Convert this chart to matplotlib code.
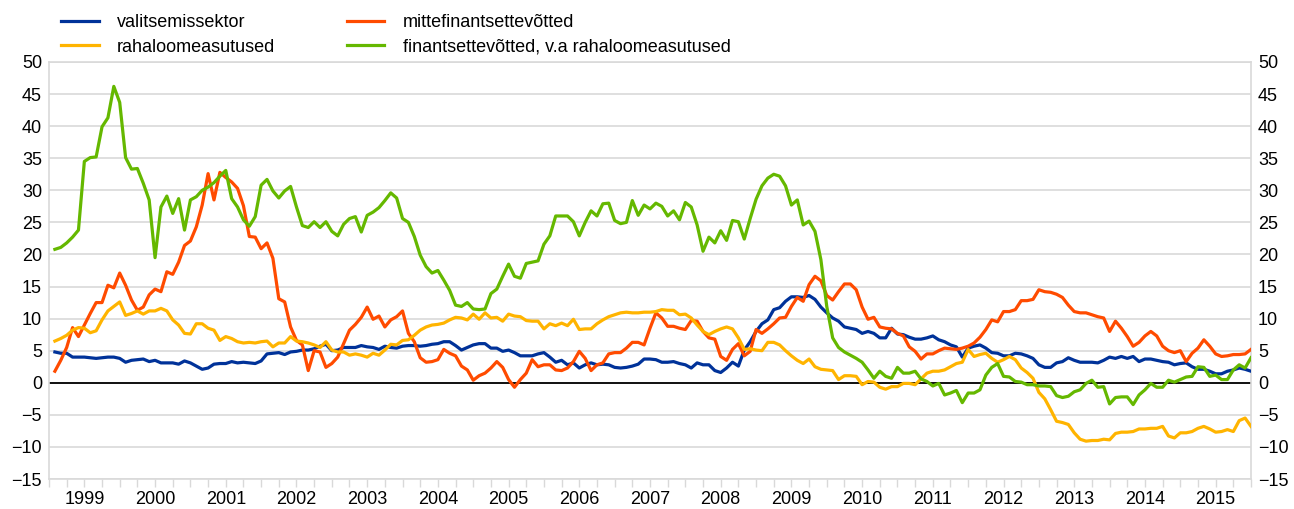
import numpy as np
import matplotlib
matplotlib.use("Agg")
import matplotlib.pyplot as plt
from matplotlib.ticker import MultipleLocator, FixedLocator

plt.rcParams['font.family'] = ['Liberation Sans', 'DejaVu Sans']

# monthly observations, Jan 1999 - Dec 2015 (one row per year)
valitsemissektor = [
    4.8, 4.6, 4.6, 4.0, 4.0, 4.0, 3.9, 3.8, 3.9, 4.0, 4.0, 3.8,
    3.2, 3.5, 3.6, 3.7, 3.3, 3.5, 3.1, 3.1, 3.1, 2.9, 3.4, 3.1,
    2.6, 2.1, 2.3, 2.9, 3.0, 3.0, 3.3, 3.1, 3.2, 3.1, 3.0, 3.4,
    4.5, 4.6, 4.7, 4.4, 4.8, 4.9, 5.1, 5.1, 5.3, 5.7, 6.0, 5.0,
    5.1, 5.5, 5.5, 5.5, 5.8, 5.6, 5.5, 5.2, 5.7, 5.5, 5.4, 5.7,
    5.8, 5.8, 5.7, 5.8, 6.0, 6.1, 6.4, 6.4, 5.8, 5.1, 5.5, 5.9,
    6.1, 6.1, 5.4, 5.4, 4.9, 5.1, 4.7, 4.2, 4.2, 4.2, 4.5, 4.7,
    4.0, 3.2, 3.5, 2.8, 3.1, 2.3, 2.8, 3.1, 2.8, 2.9, 2.8, 2.4,
    2.3, 2.4, 2.6, 2.9, 3.7, 3.7, 3.6, 3.2, 3.2, 3.3, 3.0, 2.8,
    2.3, 3.1, 2.8, 2.8, 1.9, 1.6, 2.3, 3.2, 2.6, 5.1, 6.4, 8.0,
    9.2, 9.8, 11.4, 11.7, 12.7, 13.4, 13.4, 13.3, 13.6, 13.0, 11.8, 10.9,
    10.1, 9.6, 8.7, 8.5, 8.3, 7.7, 8.0, 7.7, 7.0, 7.0, 8.5, 7.6,
    7.5, 7.1, 6.8, 6.8, 7.0, 7.3, 6.7, 6.4, 5.9, 5.6, 4.0, 5.4,
    5.7, 5.9, 5.4, 4.7, 4.6, 4.2, 4.2, 4.6, 4.5, 4.2, 3.8, 2.8,
    2.4, 2.4, 3.1, 3.3, 3.9, 3.5, 3.2, 3.2, 3.2, 3.1, 3.5, 4.0,
    3.8, 4.1, 3.8, 4.1, 3.3, 3.7, 3.7, 3.5, 3.3, 3.2, 2.8, 3.0,
    3.1, 2.5, 2.1, 2.1, 1.8, 1.4, 1.4, 1.8, 2.0, 2.3, 2.1, 1.8,
]

mittefinants = [
    1.8, 3.5, 5.5, 8.6, 7.2, 9.0, 10.8, 12.5, 12.5, 15.2, 14.8, 17.1,
    15.2, 12.9, 11.3, 11.8, 13.7, 14.6, 14.2, 17.3, 16.9, 18.8, 21.4, 22.1,
    24.3, 27.7, 32.6, 28.5, 32.8, 32.0, 31.3, 30.3, 27.6, 22.8, 22.7, 20.9,
    21.8, 19.4, 13.1, 12.6, 8.7, 6.6, 5.9, 1.9, 5.0, 4.8, 2.4, 3.0,
    4.0, 6.1, 8.2, 9.1, 10.2, 11.8, 9.9, 10.4, 8.7, 9.8, 10.3, 11.2,
    7.7, 6.4, 3.9, 3.2, 3.3, 3.6, 5.2, 4.6, 4.2, 2.6, 2.0, 0.4,
    1.1, 1.5, 2.3, 3.3, 2.4, 0.5, -0.7, 0.5, 1.5, 3.6, 2.5, 2.8,
    2.8, 2.0, 1.9, 2.3, 3.3, 4.9, 3.8, 1.9, 2.8, 3.1, 4.5, 4.7,
    4.7, 5.4, 6.3, 6.3, 5.9, 8.5, 10.9, 10.1, 8.8, 8.8, 8.5, 8.3,
    9.7, 9.6, 8.0, 7.0, 6.8, 4.1, 3.5, 5.2, 6.1, 4.2, 4.9, 8.3,
    7.7, 8.4, 9.2, 10.1, 10.2, 11.9, 13.3, 12.7, 15.3, 16.6, 15.9, 13.6,
    12.9, 14.2, 15.4, 15.4, 14.5, 11.8, 9.9, 10.2, 8.7, 8.5, 8.4, 7.7,
    7.3, 5.6, 4.9, 3.7, 4.5, 4.5, 5.0, 5.4, 5.3, 5.2, 5.4, 5.7,
    6.2, 7.1, 8.3, 9.8, 9.5, 11.1, 11.1, 11.4, 12.8, 12.8, 13.0, 14.5,
    14.2, 14.1, 13.8, 13.3, 12.1, 11.1, 10.9, 10.9, 10.6, 10.3, 10.1, 8.0,
    9.6, 8.5, 7.2, 5.7, 6.3, 7.3, 8.0, 7.3, 5.7, 5.0, 4.7, 5.0,
    3.3, 4.6, 5.4, 6.7, 5.7, 4.5, 4.1, 4.2, 4.4, 4.4, 4.5, 5.2,
]

rahaloome = [
    6.5, 6.9, 7.4, 8.2, 8.6, 8.5, 7.8, 8.1, 9.8, 11.2, 11.9, 12.6,
    10.5, 10.8, 11.2, 10.7, 11.2, 11.2, 11.6, 11.2, 9.8, 9.0, 7.7, 7.6,
    9.2, 9.2, 8.5, 8.2, 6.6, 7.2, 6.9, 6.4, 6.2, 6.3, 6.2, 6.4,
    6.5, 5.6, 6.2, 6.2, 7.2, 6.5, 6.4, 6.2, 5.9, 5.5, 6.4, 5.1,
    4.8, 4.8, 4.3, 4.5, 4.3, 4.0, 4.6, 4.3, 5.1, 6.0, 5.9, 6.6,
    6.7, 7.4, 8.2, 8.7, 9.0, 9.1, 9.3, 9.8, 10.2, 10.1, 9.8, 10.7,
    9.9, 10.9, 10.1, 10.2, 9.6, 10.7, 10.4, 10.3, 9.7, 9.6, 9.6, 8.4,
    9.2, 8.9, 9.3, 8.9, 9.9, 8.3, 8.4, 8.4, 9.2, 9.8, 10.3, 10.6,
    10.9, 11.0, 10.9, 10.9, 11.0, 11.0, 11.1, 11.4, 11.3, 11.3, 10.6, 10.7,
    10.1, 9.0, 8.0, 7.5, 8.0, 8.4, 8.7, 8.4, 7.0, 5.2, 5.3, 5.1,
    5.0, 6.3, 6.3, 5.9, 5.0, 4.2, 3.5, 3.0, 3.7, 2.5, 2.1, 2.0,
    1.9, 0.5, 1.1, 1.1, 1.0, -0.3, 0.2, 0.1, -0.7, -1.0, -0.6, -0.6,
    -0.1, -0.1, -0.3, 0.6, 1.5, 1.8, 1.8, 2.0, 2.5, 3.0, 3.2, 5.2,
    4.1, 4.4, 4.6, 3.8, 3.2, 3.6, 4.1, 3.6, 2.3, 1.6, 0.7, -1.5,
    -2.5, -4.2, -6.0, -6.2, -6.5, -7.8, -8.8, -9.1, -9.0, -9.0, -8.8, -8.9,
    -7.9, -7.7, -7.7, -7.6, -7.2, -7.2, -7.1, -7.1, -6.8, -8.3, -8.6, -7.8,
    -7.8, -7.6, -7.1, -6.8, -7.2, -7.7, -7.6, -7.3, -7.6, -5.9, -5.5, -6.8,
]

finants = [
    20.8, 21.1, 21.8, 22.7, 23.8, 34.5, 35.1, 35.2, 39.9, 41.3, 46.2, 43.7,
    35.1, 33.3, 33.4, 31.1, 28.5, 19.5, 27.4, 29.1, 26.4, 28.7, 23.8, 28.5,
    29.0, 30.0, 30.5, 31.2, 32.2, 33.1, 28.7, 27.4, 25.4, 24.4, 25.9, 30.8,
    31.7, 29.9, 28.8, 29.9, 30.6, 27.4, 24.5, 24.2, 25.1, 24.2, 25.1, 23.6,
    22.9, 24.7, 25.6, 25.9, 23.5, 26.1, 26.6, 27.3, 28.4, 29.6, 28.8, 25.6,
    25.0, 22.8, 19.9, 18.1, 17.1, 17.5, 16.0, 14.4, 12.1, 11.9, 12.5, 11.5,
    11.4, 11.5, 13.9, 14.6, 16.6, 18.5, 16.6, 16.3, 18.6, 18.8, 19.0, 21.6,
    22.9, 26.0, 26.0, 26.0, 25.1, 22.9, 25.0, 26.8, 26.0, 27.9, 28.0, 25.3,
    24.8, 25.0, 28.4, 26.1, 27.7, 27.1, 28.0, 27.5, 26.0, 26.8, 25.4, 28.1,
    27.4, 24.6, 20.5, 22.7, 21.8, 23.7, 22.2, 25.3, 25.1, 22.4, 25.6, 28.6,
    30.7, 31.9, 32.5, 32.2, 30.7, 27.7, 28.5, 24.6, 25.2, 23.6, 19.2, 11.9,
    7.0, 5.5, 4.8, 4.3, 3.8, 3.2, 2.0, 0.7, 1.8, 1.0, 0.7, 2.4,
    1.5, 1.5, 1.8, 0.6, 0.2, -0.5, -0.1, -1.9, -1.6, -1.2, -3.1, -1.6,
    -1.6, -1.1, 1.2, 2.4, 3.0, 1.0, 0.9, 0.2, 0.1, -0.3, -0.3, -0.5,
    -0.5, -0.6, -2.0, -2.3, -2.1, -1.4, -1.1, -0.1, 0.4, -0.7, -0.6, -3.3,
    -2.3, -2.2, -2.2, -3.4, -1.9, -1.1, -0.1, -0.7, -0.7, 0.4, 0.1, 0.5,
    0.9, 1.0, 2.5, 2.4, 1.0, 1.2, 0.5, 0.5, 2.0, 2.8, 2.3, 3.9,
]

years = list(range(1999, 2016))
# end-of-month positions on a decimal year axis
t = 1999 + (np.arange(len(valitsemissektor)) + 1) / 12.0

grid_col = '#d9d9d9'
fs = 13

fig = plt.figure(figsize=(12.94, 5.09), dpi=100)
ax = fig.add_axes([49 / 1294, 1 - 479 / 509, 1202 / 1294, 417 / 509])

ax.plot(t, valitsemissektor, color='#003299', lw=2.3, label='valitsemissektor', zorder=3)
ax.plot(t, mittefinants, color='#ff4b00', lw=2.3, label='mittefinantsettevõtted', zorder=3)
ax.plot(t, rahaloome, color='#ffb400', lw=2.3, label='rahaloomeasutused', zorder=3)
ax.plot(t, finants, color='#65b800', lw=2.3, label='finantsettevõtted, v.a rahaloomeasutused', zorder=3)

ax.axhline(0, color='black', lw=1.3, zorder=2)

ax.set_xlim(1999, 2016)
ax.set_ylim(-15, 50)
ax.yaxis.set_major_locator(MultipleLocator(5))
ax.grid(axis='y', color=grid_col, lw=1.2, zorder=1)
ax.set_axisbelow(True)

# quarter tick marks, year labels centred between year boundaries
ax.xaxis.remove_overlapping_locs = False
ax.xaxis.set_major_locator(MultipleLocator(0.25))
ax.xaxis.set_major_formatter(plt.NullFormatter())
ax.xaxis.set_minor_locator(FixedLocator([y + 0.5 for y in years]))
ax.set_xticklabels([str(y) for y in years], minor=True)
ax.tick_params(axis='x', which='major', length=6, width=1, color=grid_col, direction='out')
ax.tick_params(axis='x', which='minor', length=0, pad=9, labelsize=fs)

ax.tick_params(axis='y', length=0, labelsize=fs, pad=5, labelleft=True, labelright=True, right=False)

for sp in ax.spines.values():
    sp.set_color(grid_col)
    sp.set_linewidth(1.2)

h, l = ax.get_legend_handles_labels()
order = [0, 2, 1, 3]
fig.legend([h[i] for i in order], [l[i] for i in order], ncol=2, frameon=False,
           loc='upper left', bbox_to_anchor=(61 / 1294, 1 - 14 / 509),
           fontsize=fs, handlelength=2.1, handletextpad=1.0, columnspacing=3.95,
           labelspacing=0.42, borderpad=0, borderaxespad=0)

fig.savefig('out.png', dpi=100)
